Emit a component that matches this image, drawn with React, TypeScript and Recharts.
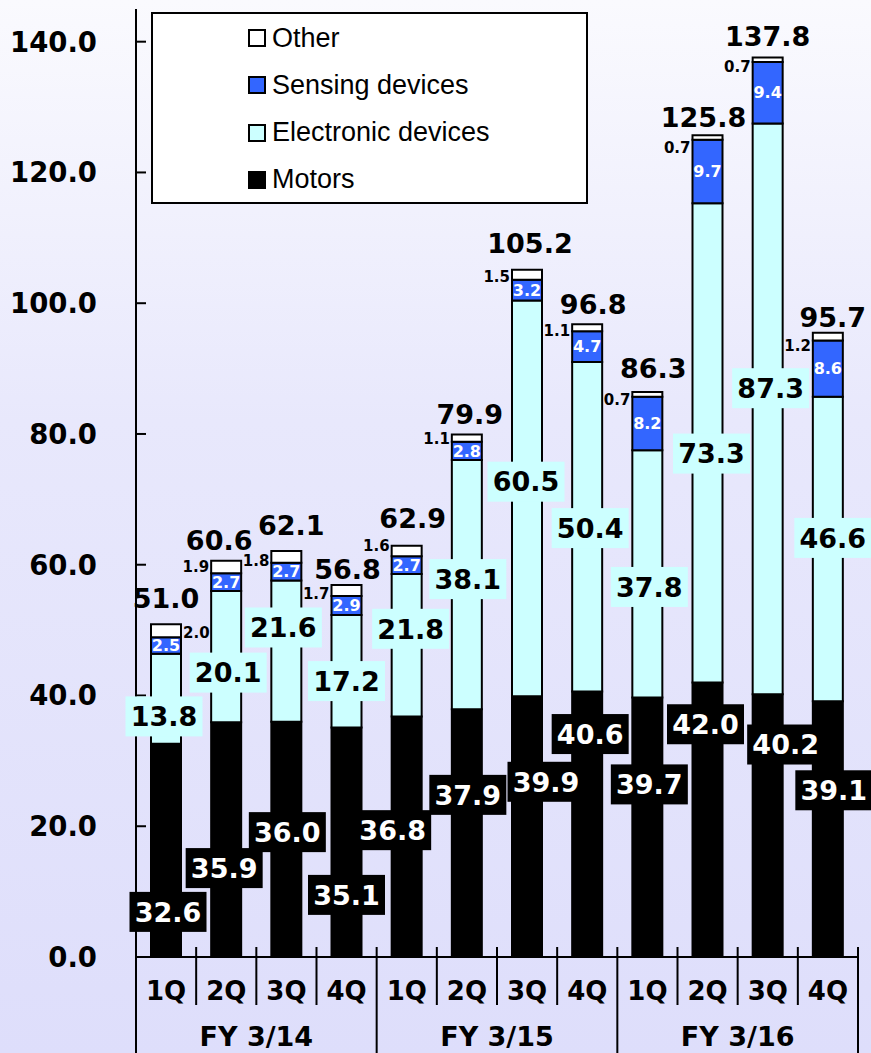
import { BarChart, Bar, XAxis, YAxis, LabelList } from "recharts";

// sales by segment, billions of yen, per quarter
const fiscalYears = ["FY 3/14", "FY 3/15", "FY 3/16"];
const quarters = ["1Q", "2Q", "3Q", "4Q"];

const motors = [32.6, 35.9, 36.0, 35.1, 36.8, 37.9, 39.9, 40.6, 39.7, 42.0, 40.2, 39.1];
const electronic = [13.8, 20.1, 21.6, 17.2, 21.8, 38.1, 60.5, 50.4, 37.8, 73.3, 87.3, 46.6];
const sensing = [2.5, 2.7, 2.7, 2.9, 2.7, 2.8, 3.2, 4.7, 8.2, 9.7, 9.4, 8.6];
const other = [2.0, 1.9, 1.8, 1.7, 1.6, 1.1, 1.5, 1.1, 0.7, 0.7, 0.7, 1.2];
const totals = [51.0, 60.6, 62.1, 56.8, 62.9, 79.9, 105.2, 96.8, 86.3, 125.8, 137.8, 95.7];

const yTicks = [0, 20, 40, 60, 80, 100, 120, 140];

// where the boxed value tags sit (in axis units) and sideways nudges in px,
// staggered so neighbouring tags don't collide
const motorsTagAt = [6.9, 13.6, 19.1, 9.5, 19.4, 24.8, 26.8, 34.1, 26.4, 35.6, 32.5, 25.5];
const motorsTagDx = [2, -2, 1, 0, -14, 1, 19, 3, 2, -2, 18, 6];
const electronicTagAt = [36.8, 43.5, 50.4, 42.2, 50.2, 57.8, 72.7, 65.6, 56.6, 77.0, 87.0, 64.1];
const electronicTagDx = [-2, 2, -3, 0, 4, 1, -1, 3, 2, 4, 3, 5];
const totalTagLift = [16, 11, 16, 6, 18, 11, 17, 10, 14, 8, 11, 6];
const totalTagDx = [0, -7, 5, 1, 6, 3, 3, 6, 6, -4, 0, 5];
const otherTagDrop = [8, 6, 10, 9, 0, 4, 7, 6, 7, 12, 9, 13];

const data = fiscalYears.flatMap((fy, f) =>
  quarters.map((q, k) => {
    const i = f * 4 + k;
    return {
      id: `${fy} ${q}`,
      fy,
      q,
      motors: motors[i],
      electronic: electronic[i],
      sensing: sensing[i],
      other: other[i],
    };
  })
);

const W = 871;
const H = 1053;
const AXIS_X = 136;
const RIGHT = 13;
const X_AXIS_H = 96;
const Y_TICK_GAP = 39;
const BAND = (W - AXIS_X - RIGHT) / data.length;

const bold = { fontFamily: "'DejaVu Sans', Verdana, sans-serif", fontWeight: 700 };

const ValueTick = (props: any) => {
  const { x, y, payload } = props;
  const ax = x + Y_TICK_GAP;
  return (
    <g>
      <line x1={ax} x2={ax + 10} y1={y} y2={y} stroke="#000" strokeWidth={2} />
      <text x={x} y={y} dy="0.36em" textAnchor="end" fontSize={27.5} fill="#000" style={bold}>
        {Number(payload.value).toFixed(1)}
      </text>
    </g>
  );
};

const QuarterTick = (props: any) => {
  const { x, y, index } = props;
  const row = data[index];
  if (!row) return null;
  const left = x - BAND / 2;
  const right = x + BAND / 2;
  const startsYear = index % 4 === 0;
  const isLast = index === data.length - 1;
  return (
    <g>
      <line x1={left} x2={left} y1={y - 10} y2={startsYear ? y + X_AXIS_H : y + 48} stroke="#000" strokeWidth={2} />
      {isLast && <line x1={right} x2={right} y1={y - 10} y2={y + X_AXIS_H} stroke="#000" strokeWidth={2} />}
      <text x={x} y={y + 43} textAnchor="middle" fontSize={26} fill="#000" style={bold}>
        {row.q}
      </text>
      {index % 4 === 1 && (
        <text x={right} y={y + 89} textAnchor="middle" fontSize={27} fill="#000" style={bold}>
          {row.fy}
        </text>
      )}
    </g>
  );
};

const box = (p: any) => {
  const vb = p.viewBox ?? p;
  return { x: vb.x, y: vb.y, width: vb.width, height: vb.height, index: p.index };
};

const MotorsTag = (p: any) => {
  const { x, y, width, height, index } = box(p);
  const ppu = height / motors[index];
  const cy = y + height - motorsTagAt[index] * ppu;
  const cx = x + width / 2 + motorsTagDx[index];
  return (
    <g>
      <rect x={cx - 38.5} y={cy - 20} width={77} height={40} fill="#000" />
      <text x={cx} y={cy} dy="0.36em" textAnchor="middle" fontSize={27} fill="#fff" style={bold}>
        {motors[index].toFixed(1)}
      </text>
    </g>
  );
};

const ElectronicTag = (p: any) => {
  const { x, y, width, height, index } = box(p);
  const ppu = height / electronic[index];
  const cy = y + height - (electronicTagAt[index] - motors[index]) * ppu;
  const cx = x + width / 2 + electronicTagDx[index];
  return (
    <g>
      <rect x={cx - 38.5} y={cy - 20} width={77} height={40} fill="#ccffff" />
      <text x={cx} y={cy} dy="0.36em" textAnchor="middle" fontSize={27} fill="#000" style={bold}>
        {electronic[index].toFixed(1)}
      </text>
    </g>
  );
};

const SensingTag = (p: any) => {
  const { x, y, width, height, index } = box(p);
  return (
    <text x={x + width / 2} y={y + height / 2} dy="0.36em" textAnchor="middle" fontSize={16} fill="#fff" style={bold}>
      {sensing[index].toFixed(1)}
    </text>
  );
};

const OtherTag = (p: any) => {
  const { x, y, width, index } = box(p);
  const onRight = index === 0;
  return (
    <g>
      <text
        x={onRight ? x + width + 2 : x - 2}
        y={y + otherTagDrop[index]}
        dy="0.36em"
        textAnchor={onRight ? "start" : "end"}
        fontSize={15}
        fill="#000"
        style={bold}
      >
        {other[index].toFixed(1)}
      </text>
      <text
        x={x + width / 2 + totalTagDx[index]}
        y={y - totalTagLift[index]}
        textAnchor="middle"
        fontSize={27}
        fill="#000"
        style={bold}
      >
        {totals[index].toFixed(1)}
      </text>
    </g>
  );
};

const legendItems = [
  { name: "Other", color: "#ffffff" },
  { name: "Sensing devices", color: "#3366ff" },
  { name: "Electronic devices", color: "#ccffff" },
  { name: "Motors", color: "#000000" },
];

function LegendBox() {
  return (
    <div
      style={{
        position: "absolute",
        left: 151,
        top: 12,
        width: 437,
        height: 192,
        boxSizing: "border-box",
        border: "2px solid #000",
        background: "#fff",
      }}
    >
      {legendItems.map((item, i) => (
        <div
          key={item.name}
          style={{
            position: "absolute",
            left: 95,
            top: 24 + i * 47.3 - 17,
            height: 34,
            display: "flex",
            alignItems: "center",
            whiteSpace: "nowrap",
          }}
        >
          <span
            style={{
              display: "inline-block",
              width: 18,
              height: 18,
              boxSizing: "border-box",
              border: "2px solid #000",
              background: item.color,
              marginRight: 6,
            }}
          />
          <span style={{ fontFamily: "'Liberation Sans', Arial, sans-serif", fontSize: 27, color: "#000" }}>
            {item.name}
          </span>
        </div>
      ))}
    </div>
  );
}

export default function App() {
  return (
    <div
      style={{
        position: "absolute",
        left: 0,
        top: 0,
        width: W,
        height: H,
        background: "linear-gradient(to bottom, #fafafe 0%, #e8e8fc 40%, #dedefb 100%)",
      }}
    >
      <BarChart width={W} height={H} data={data} margin={{ top: 9, right: RIGHT, bottom: 0, left: 0 }} barSize={30}>
        <XAxis
          dataKey="id"
          height={X_AXIS_H}
          interval={0}
          tickLine={false}
          tickSize={0}
          tickMargin={0}
          axisLine={{ stroke: "#000", strokeWidth: 2 }}
          tick={QuarterTick}
        />
        <YAxis
          domain={[0, 145]}
          ticks={yTicks}
          interval={0}
          width={AXIS_X}
          tickLine={false}
          tickSize={0}
          tickMargin={Y_TICK_GAP}
          axisLine={{ stroke: "#000", strokeWidth: 2 }}
          tick={ValueTick}
          allowDataOverflow
        />
        <Bar dataKey="motors" stackId="s" fill="#000000" stroke="#000" strokeWidth={2} isAnimationActive={false}>
          <LabelList dataKey="motors" content={MotorsTag} />
        </Bar>
        <Bar dataKey="electronic" stackId="s" fill="#ccffff" stroke="#000" strokeWidth={2} isAnimationActive={false}>
          <LabelList dataKey="electronic" content={ElectronicTag} />
        </Bar>
        <Bar dataKey="sensing" stackId="s" fill="#3366ff" stroke="#000" strokeWidth={2} isAnimationActive={false}>
          <LabelList dataKey="sensing" content={SensingTag} />
        </Bar>
        <Bar dataKey="other" stackId="s" fill="#ffffff" stroke="#000" strokeWidth={2} isAnimationActive={false}>
          <LabelList dataKey="other" content={OtherTag} />
        </Bar>
      </BarChart>
      <LegendBox />
    </div>
  );
}
